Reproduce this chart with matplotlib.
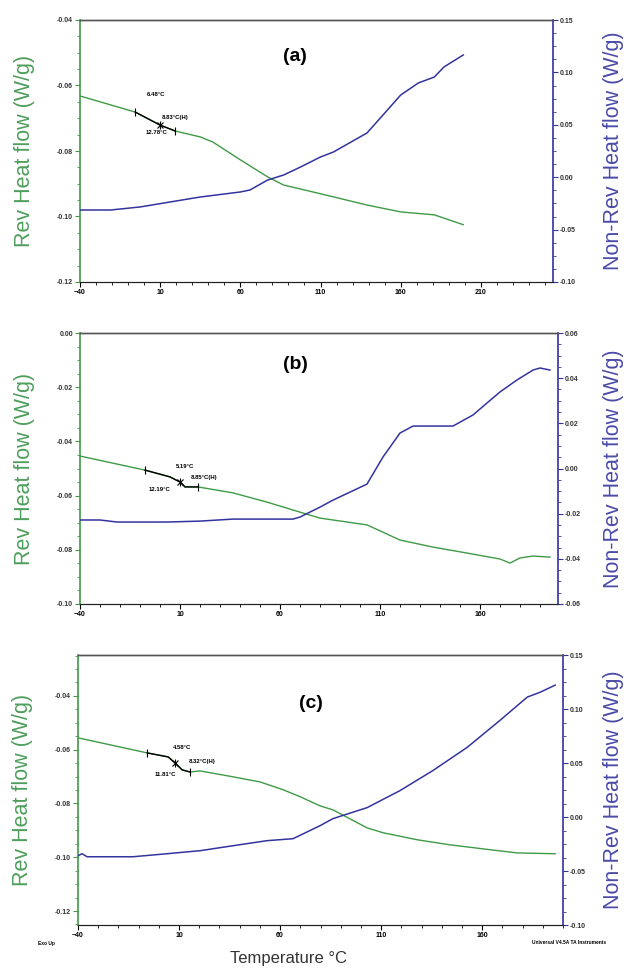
"""Reversing / non-reversing heat flow (MDSC) for three samples, stacked."""

import matplotlib.pyplot as plt
from matplotlib.ticker import AutoMinorLocator, FormatStrFormatter

plt.rcParams["font.family"] = ["Liberation Sans", "DejaVu Sans"]

GREEN = "#3f9a45"
BLUE = "#33339f"
GREEN_TXT = "#4e9e5c"
BLUE_TXT = "#4a4aa8"

# ---- panel (a) ----
a_rev_t = [-40, -5.6, 10, 19.4, 35, 43, 60, 77, 87, 97.5, 118, 139, 160, 181, 199]
a_rev = [-0.0632, -0.0681, -0.0721, -0.0739, -0.0757, -0.0773, -0.0827, -0.0879,
         -0.0904, -0.0916, -0.0940, -0.0965, -0.0986, -0.0995, -0.1025]
a_nrev_t = [-40, -21, -2.5, 16, 35, 60, 66, 77, 87, 97.5, 110, 118, 139, 149, 160,
            171, 181, 187, 199]
a_nrev = [-0.0313, -0.0313, -0.0284, -0.0237, -0.0189, -0.0141, -0.0122, -0.0027,
          0.0021, 0.0097, 0.0193, 0.0240, 0.0422, 0.0594, 0.0784, 0.0899, 0.0956,
          0.1052, 0.1166]
a_tg = [-5.6, 10, 19.4]
a_tg_labels = ["6.48°C", "8.83°C(H)", "12.78°C"]

# ---- panel (b) ----
b_rev_t = [-40, -7.5, 5, 10, 12.5, 19, 36.5, 53.5, 70, 80, 86.5, 103.5, 120, 136.5,
           153.5, 170, 175, 180, 186.5, 195]
b_rev = [-0.0454, -0.0506, -0.0531, -0.0550, -0.0568, -0.0568, -0.0590, -0.0624,
         -0.0661, -0.0683, -0.0690, -0.0708, -0.0764, -0.0790, -0.0812, -0.0834,
         -0.0849, -0.0830, -0.0823, -0.0827]
b_nrev_t = [-40, -30, -21.5, 3.5, 20, 36.5, 66.5, 70, 80, 86.5, 103.5, 111.5, 120,
            126.5, 146.5, 156.5, 163.5, 170, 178.5, 186.5, 190, 195]
b_nrev = [-0.0228, -0.0228, -0.0237, -0.0237, -0.0233, -0.0224, -0.0224, -0.0215,
          -0.0171, -0.0140, -0.0069, 0.0051, 0.0157, 0.0188, 0.0188, 0.0237, 0.0290,
          0.0339, 0.0392, 0.0436, 0.0445, 0.0436]
b_tg = [-7.5, 10, 19]
b_tg_labels = ["5.19°C", "8.85°C(H)", "12.19°C"]

# ---- panel (c) ----
c_rev_t = [-40, -5.8, 4.6, 8.0, 11.5, 15.4, 20.4, 36.7, 50.1, 61.5, 69.9, 79.8, 86.2,
           103.1, 111, 127.8, 144.2, 160.5, 177.3, 196.1]
c_rev = [-0.0556, -0.0612, -0.0627, -0.0649, -0.0675, -0.0683, -0.0679, -0.0701,
         -0.0720, -0.0749, -0.0775, -0.0809, -0.0824, -0.0891, -0.0909, -0.0935,
         -0.0954, -0.0969, -0.0984, -0.0987]
c_nrev_t = [-40, -38, -35.5, -12.8, 4.1, 20.4, 36.7, 53.6, 66.4, 79.8, 86.2, 103.1,
            119.4, 135.7, 152.6, 168.9, 182.3, 188.8, 196.1]
c_nrev = [-0.0359, -0.0340, -0.0368, -0.0368, -0.0340, -0.0312, -0.0266, -0.0219,
          -0.0201, -0.0080, -0.0015, 0.0087, 0.0245, 0.0431, 0.0645, 0.0896, 0.1110,
          0.1156, 0.1221]
c_tg = [-5.8, 8.0, 15.4]
c_tg_labels = ["4.58°C", "8.32°C(H)", "11.81°C"]

x_ticks_a = [-40, 10, 60, 110, 160, 210]
x_ticks_bc = [-40, 10, 60, 110, 160]
rev_ticks_a = [-0.12, -0.10, -0.08, -0.06, -0.04]
rev_ticks_b = [-0.10, -0.08, -0.06, -0.04, -0.02, 0.00]
rev_ticks_c = [-0.12, -0.10, -0.08, -0.06, -0.04]
nrev_ticks_a = [-0.10, -0.05, 0.00, 0.05, 0.10, 0.15]
nrev_ticks_b = [-0.06, -0.04, -0.02, 0.00, 0.02, 0.04, 0.06]
nrev_ticks_c = [-0.10, -0.05, 0.00, 0.05, 0.10, 0.15]


def interp(x, xs, ys):
    for i in range(len(xs) - 1):
        if xs[i] <= x <= xs[i + 1]:
            f = (x - xs[i]) / (xs[i + 1] - xs[i])
            return ys[i] + f * (ys[i + 1] - ys[i])
    return ys[-1]


def draw_panel(fig, rect, tag, tag_pos, rev_t, rev, nrev_t, nrev, tg, tg_labels,
               tg_text_pos, xlim, xticks, rev_lim, rev_ticks, nrev_lim, nrev_ticks,
               label_x):
    ax = fig.add_axes(rect)
    ax2 = ax.twinx()

    ax.plot(rev_t, rev, color=GREEN, lw=1.0, zorder=3)
    ax2.plot(nrev_t, nrev, color=BLUE, lw=1.1)

    # glass transition markers on the reversing curve
    seg_t = [tg[0]] + [t for t in rev_t if tg[0] < t < tg[2]] + [tg[2]]
    seg_v = [interp(t, rev_t, rev) for t in seg_t]
    ax.plot(seg_t, seg_v, color="black", lw=1.0, zorder=4)
    for t in tg:
        ax.plot([t], [interp(t, rev_t, rev)], marker="|", ms=6, mew=0.8,
                color="black", zorder=5)
    ax.plot([tg[1]], [interp(tg[1], rev_t, rev)], marker="x", ms=4, mew=0.8,
            color="black", zorder=5)
    for label, (tx, ty) in zip(tg_labels, tg_text_pos):
        ax.text(tx, ty, label, fontsize=4.3, fontweight="bold", ha="center",
                va="center", zorder=6)

    ax.set_xlim(*xlim)
    ax.set_xticks(xticks)
    ax.set_ylim(*rev_lim)
    ax.set_yticks(rev_ticks)
    ax2.set_ylim(*nrev_lim)
    ax2.set_yticks(nrev_ticks)
    ax.xaxis.set_minor_locator(AutoMinorLocator(5))
    ax.yaxis.set_minor_locator(AutoMinorLocator(4))
    ax2.yaxis.set_minor_locator(AutoMinorLocator(4))
    ax.yaxis.set_major_formatter(FormatStrFormatter("%.2f"))
    ax2.yaxis.set_major_formatter(FormatStrFormatter("%.2f"))

    for a in (ax, ax2):
        a.tick_params(which="major", direction="out", length=3.5, width=0.8,
                      labelsize=5, pad=1.5)
        a.tick_params(which="minor", direction="out", length=2, width=0.6)
        for lab in a.get_xticklabels() + a.get_yticklabels():
            lab.set_fontweight("bold")

    ax.tick_params(axis="y", which="both", colors="#333333")
    ax.tick_params(axis="y", which="both", color=GREEN)
    ax2.tick_params(axis="y", which="both", colors="#333333")
    ax2.tick_params(axis="y", which="both", color=BLUE)

    ax.spines["left"].set_color(GREEN)
    ax.spines["left"].set_linewidth(1.2)
    ax2.spines["left"].set_visible(False)
    ax2.spines["right"].set_color(BLUE)
    ax2.spines["right"].set_linewidth(1.2)
    ax.spines["right"].set_visible(False)
    for a in (ax, ax2):
        a.spines["top"].set_color("#555555")
        a.spines["top"].set_linewidth(1.0)
        a.spines["bottom"].set_color("#222222")

    ax.text(tag_pos[0], tag_pos[1], tag, transform=ax.transAxes, fontsize=14,
            fontweight="bold", ha="center", va="center")

    ax.set_ylabel("Rev Heat flow (W/g)", color=GREEN_TXT, fontsize=15.5)
    ax2.set_ylabel("Non-Rev Heat flow (W/g)", color=BLUE_TXT, fontsize=15.5)
    ax.yaxis.set_label_coords(label_x[0], 0.5)
    ax2.yaxis.set_label_coords(label_x[1], 0.5)
    return ax, ax2


W, H = 626, 969
fig = plt.figure(figsize=(W / 100, H / 100), dpi=100)


def rect(left, top, right, bottom):
    return [left / W, 1 - bottom / H, (right - left) / W, (bottom - top) / H]


draw_panel(fig, rect(80, 20, 553, 282), "(a)", (0.455, 0.86),
           a_rev_t, a_rev, a_nrev_t, a_nrev, a_tg, a_tg_labels,
           [(7.5, -0.0626), (19.5, -0.0699), (8.0, -0.0745)],
           (-40, 255), x_ticks_a, (-0.12, -0.04), rev_ticks_a, (-0.10, 0.15), nrev_ticks_a,
           (-0.095, 1.106))

draw_panel(fig, rect(80, 333, 558, 604), "(b)", (0.45, 0.885),
           b_rev_t, b_rev, b_nrev_t, b_nrev, b_tg, b_tg_labels,
           [(12.5, -0.0491), (22.0, -0.0535), (0.0, -0.0576)],
           (-40, 199), x_ticks_bc, (-0.10, 0.00), rev_ticks_b, (-0.06, 0.06), nrev_ticks_b,
           (-0.094, 1.094))

draw_panel(fig, rect(78, 655, 563, 925), "(c)", (0.48, 0.82),
           c_rev_t, c_rev, c_nrev_t, c_nrev, c_tg, c_tg_labels,
           [(11.5, -0.0593), (21.5, -0.0645), (3.1, -0.0694)],
           (-40, 200), x_ticks_bc, (-0.1252, -0.0248), rev_ticks_c,
           (-0.10, 0.15), nrev_ticks_c, (-0.093, 1.082))

fig.text(288 / W, 1 - 958 / H, "Temperature °C", fontsize=12, color="#333333",
         ha="center", va="center")
fig.text(38 / W, 1 - 943 / H, "Exo Up", fontsize=3.5, fontweight="bold",
         ha="left", va="center")
fig.text(606 / W, 1 - 943 / H, "Universal V4.5A TA Instruments", fontsize=3.5,
         fontweight="bold", ha="right", va="center")

fig.savefig("out.png", dpi=100)
